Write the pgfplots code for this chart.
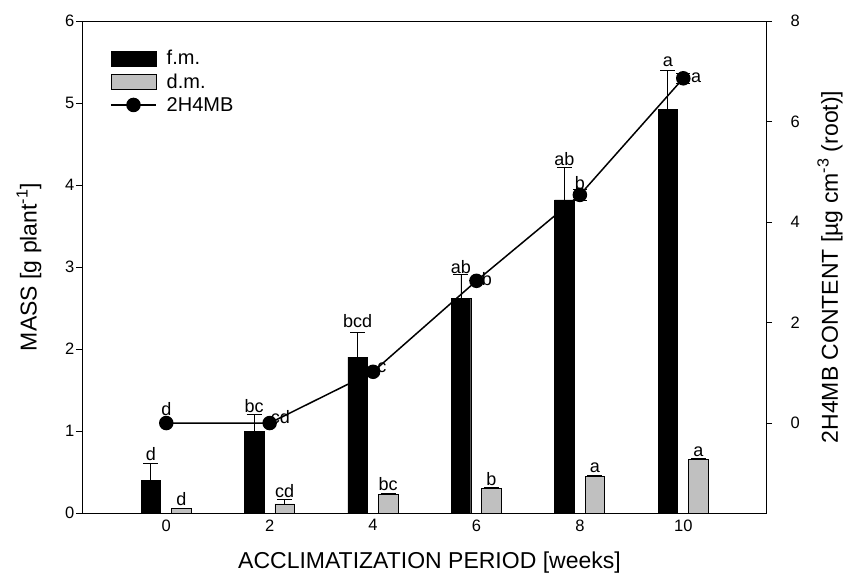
\documentclass[border=0pt]{standalone}
\usepackage{pgfplots}
\pgfplotsset{compat=1.18}
\usepackage{fontspec}
\setmainfont{Liberation Sans}
\definecolor{gbar}{RGB}{192,192,192}
\tikzset{lettr/.style={font=\fontsize{18}{21}\selectfont, inner sep=0pt}}
\begin{document}
\begin{tikzpicture}
\pgfplotsset{
  common/.style={
    at={(0,0)}, anchor=south west, scale only axis,
    width=684pt, height=492pt, xmin=-1.63, xmax=11.6, clip=false,
    /pgf/number format/assume math mode=true,
    tick label style={font=\fontsize{16.5}{19}\selectfont},
    label style={font=\fontsize{23}{27}\selectfont},
    tick align=outside, major tick length=6pt,
    axis line style={line width=0.8pt},
    every tick/.style={line width=0.8pt, black},
  },
}
\begin{axis}[common,
  ymin=0, ymax=6, ytick={0,1,2,3,4,5,6},
  xtick={0,2,4,6,8,10}, xtick pos=left, ytick pos=left,
  xtick style={draw=none},
  xticklabel style={yshift=3pt},
  yticklabel style={inner sep=1.5pt},
  xlabel={ACCLIMATIZATION PERIOD [weeks]},
  ylabel={MASS [g plant\textsuperscript{-1}]},
  xlabel style={at={(axis description cs:0.508,-0.1016)}, anchor=center},
  ylabel style={at={(axis description cs:-0.0775,0.5)}, anchor=center, rotate=0},
]
\addplot[ybar, bar width=19.5pt, bar shift=0pt, fill=black, draw=black,
  error bars/.cd, y dir=plus, y explicit,
  error bar style={line width=0.8pt, black},
  error mark options={rotate=90, mark size=7.5pt, line width=0.8pt, black}]
  table[x=x, y=y, y error=e] {
x y e
-0.30 0.40 0.20
1.70 1.00 0.20
3.70 1.90 0.30
5.70 2.62 0.29
7.70 3.82 0.40
9.70 4.92 0.48
};
\addplot[ybar, bar width=19.5pt, bar shift=0pt, fill=gbar, draw=black, line width=0.6pt,
  error bars/.cd, y dir=plus, y explicit,
  error bar style={line width=0.8pt, black},
  error mark options={rotate=90, mark size=7.5pt, line width=0.8pt, black}]
  table[x=x, y=y, y error=e] {
x y e
0.29 0.06 0.00
2.29 0.11 0.05
4.29 0.23 0.01
6.29 0.30 0.01
8.29 0.45 0.01
10.29 0.65 0.01
};
% letters for f.m.
\node[lettr, anchor=base] at (axis cs:-0.30,0.64) {d};
\node[lettr, anchor=base] at (axis cs:1.70,1.23) {bc};
\node[lettr, anchor=base] at (axis cs:3.70,2.26) {bcd};
\node[lettr, anchor=base] at (axis cs:5.70,2.92) {ab};
\node[lettr, anchor=base] at (axis cs:7.70,4.24) {ab};
\node[lettr, anchor=base] at (axis cs:9.70,5.44) {a};
% letters for d.m.
\node[lettr, anchor=base] at (axis cs:0.29,0.09) {d};
\node[lettr, anchor=base] at (axis cs:2.29,0.19) {cd};
\node[lettr, anchor=base] at (axis cs:4.29,0.27) {bc};
\node[lettr, anchor=base] at (axis cs:6.29,0.34) {b};
\node[lettr, anchor=base] at (axis cs:8.29,0.49) {a};
\node[lettr, anchor=base] at (axis cs:10.29,0.69) {a};
\end{axis}
\begin{axis}[common,
  ymin=-1.79, ymax=8, ytick={0,2,4,6,8},
  axis x line=none, axis y line*=right,
  yticklabel style={xshift=15pt},
  ylabel={2H4MB CONTENT [µg cm\textsuperscript{-3} (root)]},
  ylabel style={at={(axis description cs:1.0936,0.5)}, anchor=center, rotate=0},
  legend style={draw=none, fill=none, at={(axis description cs:0.041,0.943)}, anchor=north west,
    font=\fontsize{20}{24}\selectfont, inner sep=0pt, row sep=5.5pt,
    nodes={inner sep=1pt},
    /tikz/every odd column/.append style={column sep=9pt}},
  legend cell align=left,
]
\addlegendimage{legend image code/.code={\draw[fill=black, draw=black] (0pt,-7.5pt) rectangle (45pt,7.5pt);}}
\addlegendentry{f.m.}
\addlegendimage{legend image code/.code={\draw[fill=gbar, draw=black, line width=0.6pt] (0pt,-7.5pt) rectangle (45pt,7.5pt);}}
\addlegendentry{d.m.}
\addplot[black, line width=1.5pt, mark=*, mark size=6.5pt, mark options={solid, fill=black},
  legend image code/.code={\draw[black, line width=1.5pt] (0pt,0pt) -- (45pt,0pt); \fill[black] (22.5pt,0pt) circle (6.5pt);},
  error bars/.cd, y dir=both, y explicit,
  error bar style={line width=0.8pt, black},
  error mark options={rotate=90, mark size=7pt, line width=0.8pt, black}]
  table[x=x, y=y, y error=e] {
x y e
0 0.00 0.00
2 0.00 0.00
4 1.02 0.00
6 2.83 0.00
8 4.54 0.10
10 6.86 0.10
};
\addlegendentry{2H4MB}
% letters for 2H4MB
\node[lettr, anchor=base] at (axis cs:0.0,0.15) {d};
\node[lettr, anchor=base west] at (axis cs:2.02,0.0) {cd};
\node[lettr, anchor=base west] at (axis cs:4.08,1.0) {c};
\node[lettr, anchor=base west] at (axis cs:6.10,2.73) {b};
\node[lettr, anchor=base] at (axis cs:8.0,4.64) {b};
\node[lettr, anchor=base west] at (axis cs:10.15,6.77) {a};
\end{axis}
\pgfresetboundingbox
\path (-82pt,-63pt) rectangle (767pt,513pt);
\end{tikzpicture}
\end{document}
